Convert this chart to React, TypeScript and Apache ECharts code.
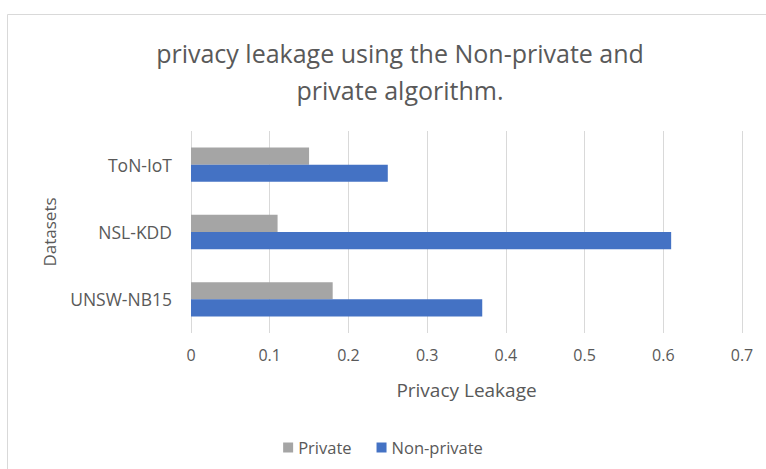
import React, { useEffect, useRef } from "react";
import * as echarts from "echarts";

const categories = ["UNSW-NB15", "NSL-KDD", "ToN-IoT"];
const privateValues = [0.18, 0.11, 0.15];
const nonPrivateValues = [0.37, 0.61, 0.25];
const xTicks = [0, 0.1, 0.2, 0.3, 0.4, 0.5, 0.6, 0.7];

const FONT = "'Open Sans', 'Noto Sans', sans-serif";
const TEXT = "#595959";

export default function App() {
  const ref = useRef<HTMLDivElement>(null);

  useEffect(() => {
    if (!ref.current) return;
    const chart = echarts.init(ref.current, undefined, { renderer: "svg" });
    chart.setOption({
      animation: false,
      backgroundColor: "#ffffff",
      textStyle: { fontFamily: FONT, color: TEXT },
      graphic: [
        {
          type: "rect",
          shape: { x: 7.5, y: 14.5, width: 800, height: 500 },
          style: { fill: "none", stroke: "#d9d9d9", lineWidth: 1 },
          silent: true,
        },
      ],
      title: {
        text: "privacy leakage using the Non-private and\nprivate algorithm.",
        left: 395,
        textAlign: "center",
        top: 29,
        textStyle: {
          fontFamily: FONT,
          fontSize: 25,
          fontWeight: "normal",
          color: TEXT,
          lineHeight: 37,
        },
      },
      legend: {
        data: ["Private", "Non-private"],
        left: "center",
        top: 434,
        itemWidth: 10,
        itemHeight: 10,
        itemGap: 25,
        icon: "rect",
        textStyle: { fontFamily: FONT, fontSize: 16.5, color: TEXT },
      },
      grid: { left: 191, right: 24, top: 131, bottom: 136 },
      xAxis: {
        type: "value",
        min: 0,
        max: 0.7,
        interval: 0.1,
        name: "Privacy Leakage",
        nameLocation: "middle",
        nameGap: 47,
        nameTextStyle: { fontFamily: FONT, fontSize: 19, color: TEXT },
        axisLine: { show: false },
        axisTick: { show: false },
        axisLabel: {
          fontFamily: FONT,
          fontSize: 16,
          color: TEXT,
          margin: 14,
          formatter: (v: number) => {
            const t = xTicks.find((x) => Math.abs(x - v) < 1e-9);
            return t === undefined ? "" : String(t);
          },
        },
        splitLine: { show: true, lineStyle: { color: "#d9d9d9", width: 1 } },
      },
      yAxis: {
        type: "category",
        data: categories,
        name: "Datasets",
        nameLocation: "middle",
        nameGap: 133,
        nameRotate: 90,
        nameTextStyle: { fontFamily: FONT, fontSize: 17, color: TEXT },
        axisLine: { show: false },
        axisTick: { show: false },
        axisLabel: { fontFamily: FONT, fontSize: 17.5, color: TEXT, margin: 19 },
      },
      series: [
        {
          name: "Private",
          type: "bar",
          data: privateValues,
          itemStyle: { color: "#A5A5A5" },
          barGap: "0%",
          barCategoryGap: "49%",
        },
        {
          name: "Non-private",
          type: "bar",
          data: nonPrivateValues,
          itemStyle: { color: "#4472C4" },
          barGap: "0%",
          barCategoryGap: "49%",
        },
      ],
    });
    return () => chart.dispose();
  }, []);

  return (
    <div
      ref={ref}
      style={{ position: "fixed", left: 0, top: 0, width: 766, height: 469 }}
    />
  );
}
